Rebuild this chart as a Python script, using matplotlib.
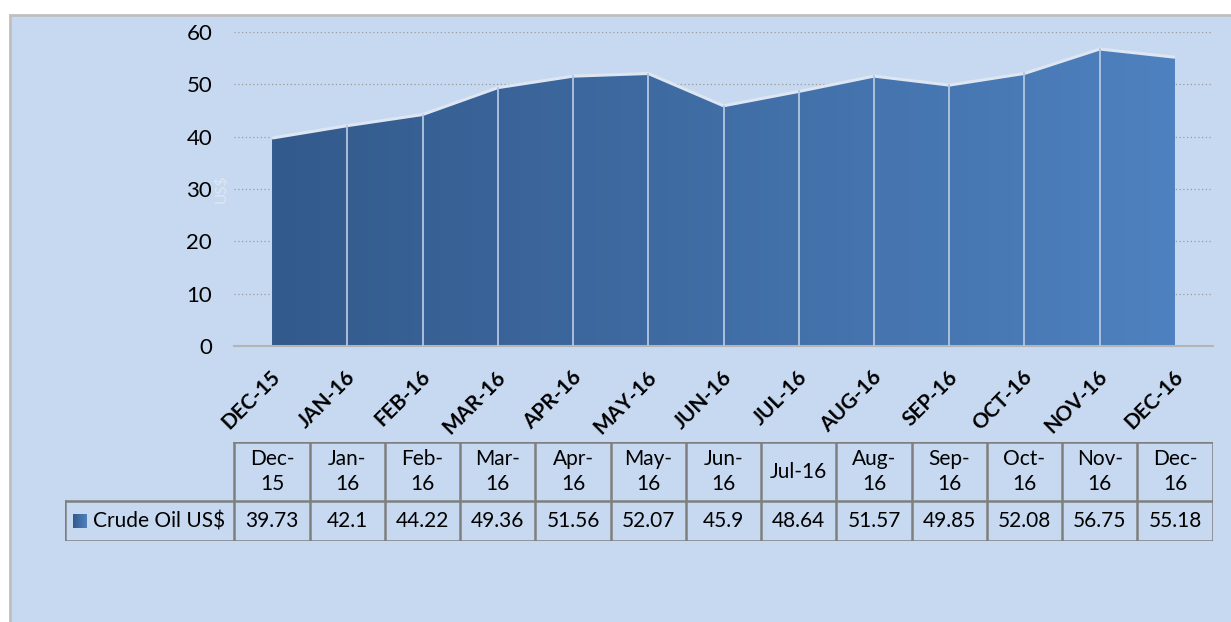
import matplotlib.pyplot as plt
import numpy as np
from matplotlib.colors import LinearSegmentedColormap
from matplotlib.patches import Rectangle
import matplotlib.transforms as mtransforms

plt.rcParams['font.family'] = ['Lato', 'DejaVu Sans']

# data
months = ['Dec-15', 'Jan-16', 'Feb-16', 'Mar-16', 'Apr-16', 'May-16', 'Jun-16',
          'Jul-16', 'Aug-16', 'Sep-16', 'Oct-16', 'Nov-16', 'Dec-16']
header_labels = ['Dec-\n15', 'Jan-\n16', 'Feb-\n16', 'Mar-\n16', 'Apr-\n16', 'May-\n16',
                 'Jun-\n16', 'Jul-16', 'Aug-\n16', 'Sep-\n16', 'Oct-\n16', 'Nov-\n16', 'Dec-\n16']
values = [39.73, 42.1, 44.22, 49.36, 51.56, 52.07, 45.9, 48.64, 51.57, 49.85, 52.08, 56.75, 55.18]
value_labels = ['39.73', '42.1', '44.22', '49.36', '51.56', '52.07', '45.9',
                '48.64', '51.57', '49.85', '52.08', '56.75', '55.18']
series_name = 'Crude Oil US$'
yticks = [0, 10, 20, 30, 40, 50, 60]

W, H = 1231, 622
bg = '#c6d9f0'
fig = plt.figure(figsize=(W / 100, H / 100), dpi=100, facecolor='white')

# light blue panel with grey border
fig.patches.append(Rectangle((10 / W, -0.1), 1.2, 1 - 15 / H + 0.1, transform=fig.transFigure,
                             facecolor=bg, edgecolor='#bfbfbf', linewidth=2, zorder=-10))

# plot area (pixels)
x0, x1 = 234.4, 1212.6
ytop, ybot = 32, 346
ax = fig.add_axes([x0 / W, 1 - ybot / H, (x1 - x0) / W, (ybot - ytop) / H])
ax.set_facecolor('none')
for s in ['top', 'right', 'left']:
    ax.spines[s].set_visible(False)
ax.spines['bottom'].set_color('#b4b4b4')
ax.spines['bottom'].set_linewidth(1.5)
ax.set_yticks(yticks)
ax.tick_params(axis='y', length=0, pad=16, labelsize=16)
ax.set_xticks([])
for t in yticks[1:]:
    ax.axhline(t, color='#9a9a9a', linestyle=(0, (1, 2)), linewidth=0.9, zorder=1)

# faint axis title
ytr = mtransforms.offset_copy(mtransforms.blended_transform_factory(ax.transAxes, ax.transData),
                              fig=fig, x=-13, y=0, units='dots')
ax.text(0, 30, 'US$', transform=ytr, rotation=90, ha='center', va='center',
        color='#dfe7f2', fontsize=11)

# area with horizontal gradient
x = np.arange(len(months))
poly = ax.fill_between(x, 0, values, facecolor='none', edgecolor='none', zorder=2)
cmap = LinearSegmentedColormap.from_list('g', ['#335a8c', '#4e81bf'])
img = ax.imshow(np.linspace(0, 1, 256).reshape(1, -1), cmap=cmap, aspect='auto',
                extent=[0, len(months) - 1, 0, 60], zorder=2)
img.set_clip_path(poly.get_paths()[0], transform=ax.transData)
ax.set_xlim(-0.5, len(months) - 0.5)
ax.set_ylim(0, 60)
ax.plot(x, values, color='#dde6f2', linewidth=2.2, zorder=3, solid_capstyle='butt')
for xi, v in zip(x[1:-1], values[1:-1]):
    ax.plot([xi, xi], [0, v], color='#b4c6e0', linewidth=1.3, zorder=3)

# rotated category labels
off = mtransforms.offset_copy(ax.transData, fig=fig, x=5, y=-28, units='dots')
for xi, m in zip(x, months):
    ax.text(xi, 0, m.upper(), transform=off, rotation=45, rotation_mode='anchor',
            ha='right', va='center', fontsize=15, fontweight='bold', color='black')

# data table below
tx0 = 65
tab = fig.add_axes([tx0 / W, 1 - 541 / H, (x1 - tx0) / W, (541 - 442) / H])
tab.set_facecolor('none')
tab.axis('off')
left = -0.5 - (x0 - tx0) / ((x1 - x0) / len(months))
tab.set_xlim(left, len(months) - 0.5)
tab.set_ylim(0, 99)
ymid = 99 - 59
lc = '#7f7f7f'
lw = 1.8
tab.plot([-0.5, len(months) - 0.5], [99, 99], color=lc, lw=lw)
tab.plot([left, len(months) - 0.5], [ymid, ymid], color=lc, lw=lw)
tab.plot([left, len(months) - 0.5], [0, 0], color=lc, lw=lw)
for b in np.arange(-0.5, len(months)):
    tab.plot([b, b], [0, 99], color=lc, lw=lw)
tab.plot([left, left], [0, ymid], color=lc, lw=lw)
for xi, h, vl in zip(x, header_labels, value_labels):
    tab.text(xi, (99 + ymid) / 2, h, ha='center', va='center', fontsize=15, linespacing=1.35)
    tab.text(xi, ymid / 2, vl, ha='center', va='center', fontsize=15)
# legend key + series name
key = fig.add_axes([73 / W, 1 - 528 / H, 14 / W, 14 / H])
key.imshow(np.linspace(0, 1, 32).reshape(1, -1), cmap=cmap, aspect='auto')
key.axis('off')
tab.text(left + 0.37, ymid / 2, series_name, ha='left', va='center', fontsize=15)

fig.savefig('out.png', dpi=100, facecolor='white')
